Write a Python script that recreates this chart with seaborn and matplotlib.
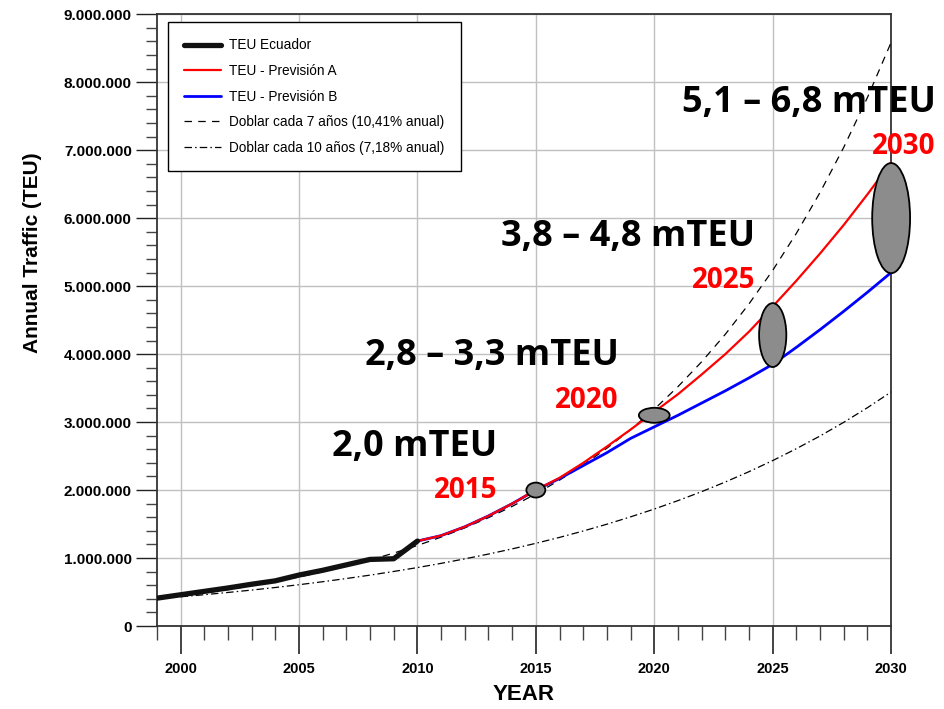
import matplotlib
matplotlib.use("Agg")
import matplotlib.pyplot as plt
import matplotlib.ticker as mticker
from matplotlib.patches import Ellipse
import seaborn as sns
import pandas as pd

# ---------------- data ----------------
years_hist = [1999, 2000, 2001, 2002, 2003, 2004, 2005, 2006, 2007, 2008, 2009, 2010]
teu_ecuador = [410000, 460000, 510000, 560000, 615000, 665000, 750000, 820000, 900000, 980000, 990000, 1250000]

years_fc = list(range(2010, 2031))
prevision_a = [1250000, 1330000, 1460000, 1620000, 1800000, 2000000, 2180000, 2400000, 2640000, 2890000,
               3150000, 3410000, 3700000, 4000000, 4330000, 4700000, 5080000, 5480000, 5900000, 6350000, 6820000]
prevision_b = [1250000, 1330000, 1460000, 1620000, 1800000, 2000000, 2170000, 2360000, 2550000, 2760000,
               2930000, 3100000, 3280000, 3460000, 3650000, 3850000, 4100000, 4360000, 4630000, 4910000, 5200000]

years_ref = list(range(2000, 2031))
doblar_7 = [440000, 486000, 536000, 592000, 654000, 722000, 797000, 880000, 972000, 1073000,
            1185000, 1308000, 1444000, 1594000, 1760000, 1944000, 2146000, 2369000, 2616000, 2888000,
            3189000, 3521000, 3887000, 4292000, 4739000, 5232000, 5777000, 6378000, 7042000, 7775000, 8585000]
doblar_10 = [430000, 461000, 494000, 529000, 567000, 608000, 652000, 699000, 749000, 803000,
             860000, 922000, 988000, 1059000, 1135000, 1217000, 1304000, 1398000, 1498000, 1606000,
             1721000, 1845000, 1977000, 2119000, 2271000, 2434000, 2609000, 2796000, 2997000, 3212000, 3443000]

series_labels = ["TEU Ecuador", "TEU - Previsión A", "TEU - Previsión B",
                 "Doblar cada 7 años (10,41% anual)", "Doblar cada 10 años (7,18% anual)"]

# ranges highlighted by ellipses: year, centre, width (years), height (TEU)
ell_years = [2015, 2020, 2025, 2030]
ell_centre = [2000000, 3100000, 4280000, 6000000]
ell_width = [0.8, 1.3, 1.15, 1.6]
ell_height = [220000, 220000, 940000, 1620000]

range_texts = ["2,0 mTEU", "2,8 – 3,3 mTEU", "3,8 – 4,8 mTEU", "5,1 – 6,8 mTEU"]
year_texts = ["2015", "2020", "2025", "2030"]

# ---------------- plot ----------------
sns.set_theme(style="white")
plt.rcParams['font.family'] = ['Liberation Sans', 'DejaVu Sans']
plt.rcParams['text.color'] = 'black'
plt.rcParams['axes.labelcolor'] = 'black'
plt.rcParams['xtick.color'] = 'black'
plt.rcParams['ytick.color'] = 'black'

fig = plt.figure(figsize=(9.45, 7.09), dpi=100)
ax = fig.add_axes([0.166, 0.117, 0.777, 0.863])

df_hist = pd.DataFrame({"year": years_hist, "teu": teu_ecuador})
df_a = pd.DataFrame({"year": years_fc, "teu": prevision_a})
df_b = pd.DataFrame({"year": years_fc, "teu": prevision_b})
df_7 = pd.DataFrame({"year": years_ref, "teu": doblar_7})
df_10 = pd.DataFrame({"year": years_ref, "teu": doblar_10})

sns.lineplot(data=df_7, x="year", y="teu", ax=ax, color="black", lw=0.9,
             label=series_labels[3], zorder=3)
ax.lines[-1].set_dashes((6, 5))
sns.lineplot(data=df_10, x="year", y="teu", ax=ax, color="black", lw=0.9,
             label=series_labels[4], zorder=3)
ax.lines[-1].set_dashes((6, 2.5, 1.2, 2.5))
sns.lineplot(data=df_b, x="year", y="teu", ax=ax, color="#0000ff", lw=2.0,
             label=series_labels[2], zorder=4)
sns.lineplot(data=df_a, x="year", y="teu", ax=ax, color="#ff0000", lw=1.6,
             label=series_labels[1], zorder=4)
sns.lineplot(data=df_hist, x="year", y="teu", ax=ax, color="#111111", lw=3.8,
             label=series_labels[0], zorder=5)

for yr, c, w, h in zip(ell_years, ell_centre, ell_width, ell_height):
    ax.add_patch(Ellipse((yr, c), w, h, facecolor="#8c8c8c", edgecolor="black",
                         lw=1.3, zorder=6, clip_on=False))

# annotations (right-aligned text blocks)
txt_pos_x = [2013.36, 2018.5, 2024.26, 2031.87]
range_y = [2630000, 3970000, 5720000, 7690000]
year_y = [1990000, 3320000, 5090000, 7060000]
for tx, ry, yy, rt, yt in zip(txt_pos_x, range_y, year_y, range_texts, year_texts):
    ax.text(tx, ry, rt, ha="right", va="center", fontsize=26, fontweight="bold",
            family=["Open Sans", "DejaVu Sans"], color="black", zorder=8, clip_on=False)
    ax.text(tx, yy, yt, ha="right", va="center", fontsize=20, fontweight="bold",
            family=["Open Sans", "DejaVu Sans"], color="#ff0000", zorder=8, clip_on=False)

ax.set_xlim(1999, 2030)
ax.set_ylim(0, 9000000)

ax.xaxis.set_major_locator(mticker.MultipleLocator(5))
ax.xaxis.set_minor_locator(mticker.MultipleLocator(1))
ax.yaxis.set_major_locator(mticker.MultipleLocator(1000000))
ax.yaxis.set_minor_locator(mticker.MultipleLocator(200000))
ax.yaxis.set_major_formatter(mticker.FuncFormatter(
    lambda v, p: "0" if v == 0 else f"{int(v):,}".replace(",", ".")))
ax.xaxis.set_major_formatter(mticker.FuncFormatter(lambda v, p: f"{int(v)}"))

ax.tick_params(axis="x", which="major", direction="out", length=20, width=1.2,
               color="#222222", labelcolor="black", labelsize=10.5, pad=6, bottom=True)
ax.tick_params(axis="x", which="minor", direction="out", length=10, width=1.0,
               color="#444444", bottom=True)
ax.tick_params(axis="y", which="major", direction="out", length=15, width=1.0,
               color="#222222", labelcolor="black", labelsize=11, pad=3, left=True)
ax.tick_params(axis="y", which="minor", direction="out", length=8, width=1.0,
               color="#444444", left=True)
for lab in ax.get_xticklabels() + ax.get_yticklabels():
    lab.set_fontweight("bold")

ax.grid(True, which="major", color="#c0c0c0", lw=1.0)
ax.set_axisbelow(True)
for side in ["left", "bottom", "right", "top"]:
    ax.spines[side].set_visible(True)
    ax.spines[side].set_color("#333333")
    ax.spines[side].set_linewidth(1.3)

ax.set_xlabel("YEAR", fontsize=16, fontweight="bold", color="black")
ax.xaxis.set_label_coords(0.5, -0.095)
ax.set_ylabel("Annual Traffic (TEU)", fontsize=15, fontweight="bold", color="black")
ax.yaxis.set_label_coords(-0.170, 0.611)
ax.yaxis.label.set_va("center")

handles, labels = ax.get_legend_handles_labels()
order = [labels.index(s) for s in series_labels]
leg = ax.legend([handles[i] for i in order], [labels[i] for i in order],
                loc="upper left", bbox_to_anchor=(0.015, 0.987), fontsize=9.8,
                frameon=True, fancybox=False, edgecolor="black", framealpha=1,
                borderpad=1.2, handlelength=2.7, handletextpad=0.6,
                labelspacing=0.85, borderaxespad=0)
leg.get_frame().set_linewidth(1.0)
leg.set_zorder(10)
for t in leg.get_texts():
    t.set_color("black")

fig.savefig("out.png", dpi=100)
